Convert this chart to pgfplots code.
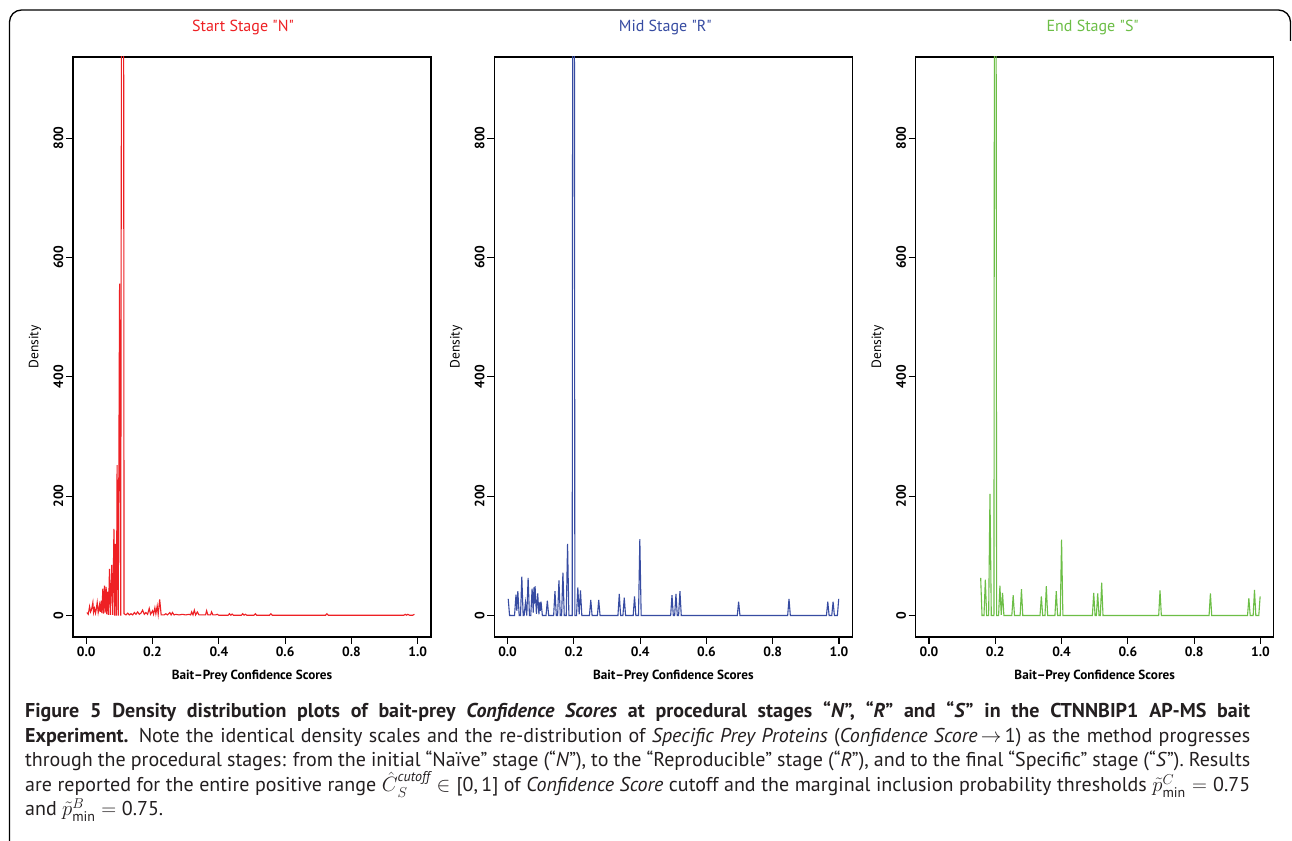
\documentclass[border=0pt]{standalone}
\usepackage{amsmath}
\usepackage{fontspec}
\setmainfont{PT Sans}
\usepackage{pgfplots}
\pgfplotsset{compat=1.18}
\definecolor{cred}{RGB}{238,32,36}
\definecolor{cblue}{RGB}{55,76,162}
\definecolor{cgreen}{RGB}{108,190,70}
\definecolor{capgray}{RGB}{35,31,32}
\newcommand{\straight}[1]{{\addfontfeatures{Ligatures=TeXOff}#1}}
\pgfplotsset{
  panel/.style={
    width=358bp, height=580bp, scale only axis,
    xmin=-0.04, xmax=1.04, ymin=-36, ymax=936,
    xtick={0,0.2,0.4,0.6,0.8,1},
    xticklabels={\textbf{0.0},\textbf{0.2},\textbf{0.4},\textbf{0.6},\textbf{0.8},\textbf{1.0}},
    ytick={0,200,400,600,800},
    yticklabels={\textbf{0},\textbf{200},\textbf{400},\textbf{600},\textbf{800}},
    tick align=outside, tick pos=left,
    major tick length=7bp,
    every tick/.style={black, line width=1.2bp},
    axis line style={line width=1.5bp},
    ticklabel style={font=\fontsize{13.5bp}{15bp}\selectfont},
    yticklabel style={rotate=90, anchor=south, inner sep=2.5bp},
    xticklabel style={inner sep=2.5bp},
    xlabel={\textbf{Bait--Prey Confidence Scores}},
    ylabel={Density},
    xlabel style={at={(axis description cs:0.5,0)}, anchor=center, yshift=-39bp, font=\fontsize{13.2bp}{15bp}\selectfont},
    ylabel style={at={(axis description cs:0,0.5)}, anchor=center, yshift=38bp, font=\fontsize{13.5bp}{15bp}\selectfont},
    title style={at={(axis description cs:0.5,1)}, anchor=center, yshift=24bp, font=\fontsize{16bp}{18bp}\selectfont},
  }
}
\begin{document}
\begin{tikzpicture}[x=1bp,y=1bp]
\useasboundingbox (0,0) rectangle (1292,841);
\fill[white] (0,0) rectangle (1292,841);
\draw[line width=1.3bp, rounded corners=12bp] (9.5,-2) -- (9.5,831) -- (1290.5,831) -- (1290.5,800);

\begin{axis}[panel, at={(73bp,204bp)}, anchor=south west,
  title={\straight{Start Stage "N"}}, title style={text=cred, xshift=-9bp}]
\addplot[cred, line width=1.1bp] coordinates {
(0.002,5)(0.006,2)(0.010,15)(0.013,6)(0.016,10)(0.020,22)(0.022,5)(0.025,12)(0.028,4)(0.030,10)
(0.033,22)(0.036,5)(0.040,18)(0.042,6)(0.045,25)(0.047,4)(0.050,45)(0.052,3)(0.055,50)(0.057,5)
(0.060,48)(0.062,2)(0.065,40)(0.067,1)(0.070,78)(0.073,1)(0.077,85)(0.080,1)(0.0835,145)(0.086,0)
(0.088,120)(0.091,0)(0.093,252)(0.0965,0)(0.1005,556)(0.104,0)(0.1105,3000)(0.114,3)
(0.120,1)(0.125,4)(0.130,1)(0.135,3)(0.140,1)(0.145,5)(0.150,2)(0.155,6)(0.160,2)(0.165,4)
(0.170,9)(0.175,2)(0.180,5)(0.185,2)(0.190,12)(0.194,2)(0.200,8)(0.203,2)(0.207,13)(0.210,3)
(0.214,16)(0.217,2)(0.2215,27)(0.226,1)(0.235,1)(0.240,3)(0.245,1)(0.252,5)(0.256,1)(0.260,5)
(0.265,1)(0.270,2)(0.280,1)(0.290,2)(0.300,1)(0.310,2)(0.315,1)(0.318,6)(0.322,1)(0.326,9)
(0.330,1)(0.335,6)(0.340,1)(0.360,1)(0.363,8)(0.367,1)(0.375,1)(0.378,6)(0.382,1)(0.390,1)
(0.395,2)(0.400,0.5)(0.428,0.5)(0.432,3)(0.436,0.5)(0.440,2.5)(0.444,0.5)(0.468,0.5)(0.472,3)
(0.476,0.5)(0.480,2)(0.484,0.5)(0.506,0.5)(0.510,3)(0.514,0.5)(0.553,0.5)(0.557,3)(0.561,0.5)
(0.722,0.5)(0.726,3)(0.730,0.5)(0.958,0.5)(0.962,2)(0.966,0.5)(0.970,2)(0.975,0.5)(0.985,0.5)(0.990,2)
};
\end{axis}

\begin{axis}[panel, at={(494.3bp,204bp)}, anchor=south west,
  title={\straight{Mid Stage "R"}}, title style={text=cblue, xshift=-8bp}]
\addplot[cblue, line width=1.1bp] coordinates {
(0.002,28)(0.006,0)(0.021,0)(0.0254,35)(0.028,8)(0.031,41)(0.035,0)(0.039,0)(0.043,65)(0.047,0)
(0.050,0)(0.054,22)(0.058,0)(0.062,63)(0.066,0)(0.070,0)(0.074,45)(0.0775,5)(0.0795,47)(0.081,20)
(0.083,49)(0.087,3)(0.091,37)(0.0945,2)(0.097,22)(0.099,8)(0.101,23)(0.105,0)(0.116,0)(0.120,25)
(0.124,0)(0.139,0)(0.143,41)(0.147,0)(0.151,0)(0.155,59)(0.159,0)(0.163,0)(0.167,72)(0.171,0)
(0.177,0)(0.181,120)(0.185,0)(0.195,0)(0.199,3000)(0.203,0)(0.208,0)(0.212,47)(0.216,2)(0.220,42)
(0.224,0)(0.247,0)(0.251,26)(0.255,0)(0.271,0)(0.275,26)(0.279,0)(0.333,0)(0.337,36)(0.341,0)
(0.348,0)(0.352,30)(0.356,0)(0.379,0)(0.383,32)(0.387,0)(0.395,0)(0.399,128)(0.403,0)(0.492,0)
(0.496,34)(0.500,0)(0.504,0)(0.508,36)(0.512,0)(0.516,0)(0.520,41)(0.524,0)(0.693,0)(0.697,23)
(0.701,0)(0.845,0)(0.849,28)(0.853,0)(0.962,0)(0.966,23)(0.970,0)(0.978,0)(0.982,23)(0.986,0)
(0.995,0)(0.999,28)
};
\end{axis}

\begin{axis}[panel, at={(915.7bp,204bp)}, anchor=south west,
  title={\straight{End Stage "S"}}, title style={text=cgreen, xshift=-2bp}]
\addplot[cgreen, line width=1.1bp] coordinates {
(0.156,63)(0.160,0)(0.166,0)(0.170,60)(0.174,0)(0.180,0)(0.184,204)(0.188,0)(0.196,0)(0.200,3000)
(0.204,0)(0.210,0)(0.214,50)(0.218,1)(0.222,38)(0.226,0)(0.250,0)(0.254,34)(0.258,0)(0.275,0)
(0.279,44)(0.283,0)(0.335,0)(0.339,32)(0.343,0)(0.350,0)(0.354,49)(0.358,0)(0.380,0)(0.384,41)
(0.388,0)(0.396,0)(0.400,127)(0.404,0)(0.493,0)(0.497,38)(0.501,0)(0.505,0)(0.509,37)(0.513,0)
(0.517,0)(0.521,55)(0.525,0)(0.693,0)(0.697,42)(0.701,0)(0.845,0)(0.849,37)(0.853,0)(0.961,0)
(0.965,29)(0.969,0)(0.978,0)(0.982,43)(0.986,0)(0.995,0)(0.999,32)
};
\end{axis}

\node[anchor=base west, inner sep=0, text=capgray] at (25,123) {\parbox[t]{1225bp}{\fontsize{20bp}{24.1bp}\selectfont
\textbf{Figure 5 Density distribution plots of bait-prey \textit{Confidence Scores} at procedural stages “\textit{N}”, “\textit{R}” and “\textit{S}” in the CTNNBIP1 AP-MS bait}\linebreak
\textbf{Experiment.} Note the identical density scales and the re-distribution of \textit{Specific Prey Proteins} (\textit{Confidence Score}\,$\rightarrow$\,1) as the method progresses\linebreak
through the procedural stages: from the initial “Naïve” stage (“\textit{N}”), to the “Reproducible” stage (“\textit{R}”), and to the final “Specific” stage (“\textit{S}”). Results\linebreak
are reported for the entire positive range $\smash{\hat{C}}_{S}^{\text{\itshape cutoff}}\in{}$[0,\,1] of \textit{Confidence Score} cutoff and the marginal inclusion probability thresholds $\tilde{p}^{C}_{\text{min}}={}$0.75\linebreak
and $\tilde{p}^{B}_{\text{min}}={}$0.75.}};
\end{tikzpicture}
\end{document}
